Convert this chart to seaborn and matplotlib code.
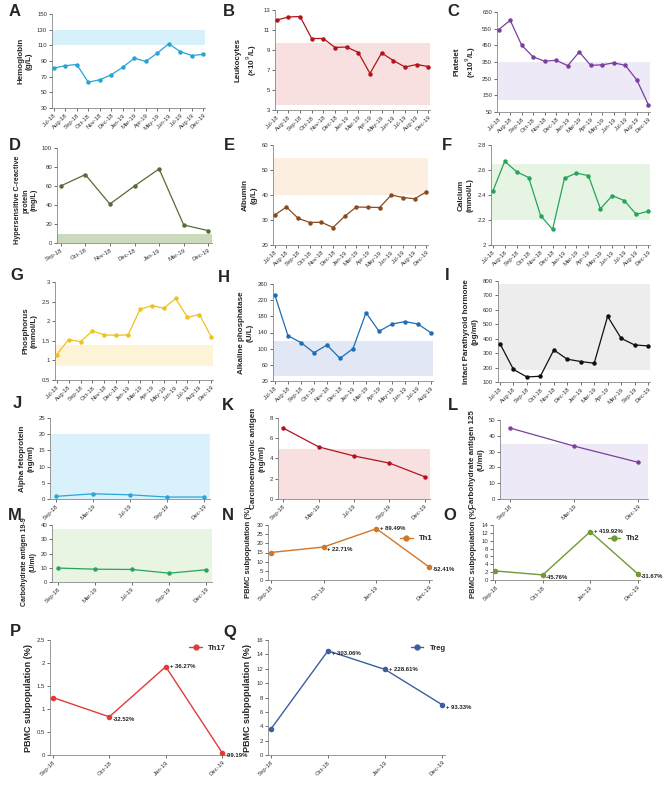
import numpy as np
import pandas as pd
import matplotlib
matplotlib.use("Agg")
import matplotlib.pyplot as plt
import seaborn as sns

# ======================================
# DATA
# ======================================
meses_14 = ["Jul-18", "Aug-18", "Sep-18", "Oct-18", "Nov-18", "Dec-18", "Jan-19",
            "Mar-19", "Apr-19", "May-19", "Jun-19", "Jul-19", "Aug-19", "Dec-19"]
meses_13 = meses_14[:13]
meses_12 = ["Jul-18", "Aug-18", "Sep-18", "Oct-18", "Nov-18", "Dec-18", "Jan-19",
            "Mar-19", "Apr-19", "May-19", "Sep-19", "Dec-19"]
meses_crp = ["Sep-18", "Oct-18", "Nov-18", "Dec-18", "Jan-19", "Mar-19", "Dec-19"]
meses_tumor = ["Sep-18", "Mar-19", "Jul-19", "Sep-19", "Dec-19"]
meses_ca125 = ["Sep-18", "Mar-19", "Dec-19"]
meses_pbmc = ["Sep-18", "Oct-18", "Jan-19", "Dec-19"]

hemoglobina = [81, 84, 85.5, 63, 66, 72.5, 82, 93.5, 89.5, 100, 112, 102, 97, 98.5]
leucocitos = [12.0, 12.3, 12.35, 10.15, 10.15, 9.25, 9.3, 8.75, 6.65, 8.7, 7.95, 7.3, 7.55, 7.35]
plaquetas = [545, 600, 450, 380, 355, 360, 328, 410, 330, 333, 345, 330, 243, 95]
pcr = [60, 72, 41, 60, 78, 19, 13]
albumina = [32, 35.2, 30.7, 29, 29.1, 27, 31.5, 35.2, 35.1, 35, 40, 39, 38.5, 41.2]
calcio = [2.43, 2.67, 2.585, 2.54, 2.235, 2.125, 2.535, 2.575, 2.555, 2.29, 2.395, 2.355, 2.245, 2.27]
fosforo = [1.15, 1.53, 1.48, 1.75, 1.65, 1.64, 1.65, 2.3, 2.4, 2.33, 2.58, 2.1, 2.17, 1.6]
fosfatase = [232, 132, 115, 90, 109, 76, 100, 189, 143, 161, 167, 161, 139]
pth = [365, 187, 135, 140, 322, 258, 242, 230, 555, 403, 357, 350]
afp = [0.8, 1.6, 1.3, 0.6, 0.6]
cea = [7.0, 5.15, 4.25, 3.55, 2.2]
ca125 = [45, 33.5, 23.2]
ca199 = [9.8, 9.0, 8.8, 6.2, 8.6]
th1 = [15, 18, 28, 7]
th2 = [2.3, 1.3, 12.3, 1.6]
th17 = [1.25, 0.83, 1.92, 0.05]
treg = [3.6, 14.5, 11.9, 7]
var_th1 = ["", "+ 22.71%", "+ 89.49%", "-52.41%"]
var_th2 = ["", "-45.76%", "+ 419.92%", "-31.67%"]
var_th17 = ["", "-32.52%", "+ 36.27%", "-99.19%"]
var_treg = ["", "+ 303.06%", "+ 228.61%", "+ 93.33%"]

# ======================================
# CONFIG
# ======================================
sns.set_theme(style="ticks")
plt.rcParams["font.family"] = ["Liberation Sans", "DejaVu Sans"]

W, H = 669, 799
fig = plt.figure(figsize=(W / 100, H / 100), dpi=100)


def eixo(l, t, r, b):
    return fig.add_axes([l / W, 1 - b / H, (r - l) / W, (b - t) / H])


def letra_fig(letra, x, y):
    # letra do painel em pixels da figura
    fig.text(x / W, 1 - y / H, letra, fontsize=12, fontweight="bold",
             ha="center", va="center")


def painel(caixa, meses, valores, cor, faixa, cor_faixa, ylim, passo,
           ylabel, rot=45, fmt=None, ysize=5.8, ylab_y=0.5):
    ax = eixo(*caixa)
    x = np.arange(len(meses))
    if faixa is not None:
        ax.axhspan(faixa[0], faixa[1], color=cor_faixa, lw=0, zorder=0)
    df = pd.DataFrame({"x": x, "y": valores})
    sns.lineplot(data=df, x="x", y="y", ax=ax, color=cor, lw=0.9, marker="o",
                 markersize=3.2, markeredgewidth=0, zorder=3)
    ax.set_xlim(-0.15, len(meses) - 0.85)
    ax.set_ylim(*ylim)
    ticks = np.arange(ylim[0], ylim[1] + passo / 2, passo)
    ax.set_yticks(ticks)
    if fmt:
        ax.set_yticklabels([fmt.format(t) for t in ticks])
    ax.set_xticks(x)
    ax.set_xticklabels(meses, rotation=rot, ha="right", rotation_mode="anchor")
    ax.tick_params(labelsize=4.3, length=2, width=0.5, pad=1.5, colors="#333333")
    for s in ["left", "bottom"]:
        ax.spines[s].set_linewidth(0.6)
        ax.spines[s].set_color("#888888")
    sns.despine(ax=ax)
    ax.set_xlabel("")
    ax.set_ylabel(ylabel, fontsize=ysize, fontweight="bold", labelpad=3, linespacing=1.3)
    if ylab_y != 0.5:
        ax.yaxis.label.set_y(ylab_y)
    return ax


def pbmc(caixa, valores, cor, rotulo, variacoes, ylim, passo, ysize, leg_y=1.0):
    ax = painel(caixa, meses_pbmc, valores, cor, None, None, ylim, passo,
                "PBMC subpopulation (%)", fmt="{:g}", ysize=ysize)
    for line in ax.lines:
        line.set_markersize(4)
        line.set_linewidth(1.0)
    ax.set_xlim(-0.05, 3.05)
    for i, v in enumerate(valores):
        if variacoes[i]:
            ax.text(i + 0.07, v, variacoes[i], fontsize=4.3, fontweight="bold",
                    ha="left", va="top" if i != 2 else "center", color="#222222")
    ax.plot([], [], color=cor, marker="o", markersize=3.5, lw=1, label=rotulo)
    leg = ax.legend(loc="upper right", bbox_to_anchor=(1.03, leg_y), fontsize=5.5,
                    frameon=False, handlelength=1.6, borderaxespad=0.2)
    for t in leg.get_texts():
        t.set_fontweight("bold")
    return ax


# ======================================
# PAINEIS
# ======================================
painel((52, 14, 205, 108), meses_14, hemoglobina, "#29a3d6", (110, 130), "#d7f1fb",
       (30, 150), 20, "Hemoglobin\n(g/L)")
painel((275, 10, 430, 110), meses_14, leucocitos, "#b3141c", (3.5, 9.7), "#f8e0e0",
       (3, 13), 2, "Leukocytes\n(×10$^9$/L)")
painel((497, 12, 650, 112), meses_14, plaquetas, "#7b3f9e", (125, 350), "#eee9f7",
       (50, 650), 100, "Platelet\n(×10$^9$/L)")

painel((57, 148, 212, 243), meses_crp, pcr, "#566b35", (0, 10), "#cbd9bd",
       (0, 100), 20, "Hypersensitive C-reactive\nprotein\n(mg/L)", rot=30,
       ysize=5.2, ylab_y=0.45)
painel((273, 145, 428, 245), meses_14, albumina, "#8b4a1c", (40, 55), "#fdeee2",
       (20, 60), 10, "Albumin\n(g/L)")
painel((491, 145, 650, 245), meses_14, calcio, "#27a35a", (2.2, 2.65), "#e6f5e3",
       (2, 2.8), 0.2, "Calcium\n(mmol/L)", fmt="{:g}")

painel((55, 282, 213, 380), meses_14, fosforo, "#efc21d", (0.85, 1.4), "#fdf3d6",
       (0.5, 3), 0.5, "Phosphorus\n(mmol/L)", fmt="{:g}")
painel((273, 284, 433, 381), meses_13, fosfatase, "#1f6db3", (33, 120), "#e1e7f4",
       (20, 260), 40, "Alkaline phosphatase\n(U/L)")
painel((498, 281, 650, 382), meses_12, pth, "#111111", (180, 780), "#ededed",
       (100, 800), 100, "Intact Parathyroid hormone\n(pg/ml)")

painel((50, 418, 210, 499), meses_tumor, afp, "#2aa5d8", (0, 20), "#d9f1fb",
       (0, 25), 5, "Alpha fetoprotein\n(ng/ml)")
painel((278, 418, 430, 499), meses_tumor, cea, "#b3141c", (0, 4.9), "#f8e0e0",
       (0, 8), 2, "Carcinoembryonic antigen\n(ng/ml)")
painel((500, 420, 648, 499), meses_ca125, ca125, "#7b3f9e", (0, 35), "#eee9f7",
       (0, 50), 10, "Carbohydrate antigen 125\n(U/ml)")

painel((52, 525, 212, 582), meses_tumor, ca199, "#27a35a", (0, 37), "#e8f5e3",
       (0, 40), 10, "Carbohydrate antigen 19-9\n(U/ml)", ysize=5.0, ylab_y=0.35)
pbmc((268, 525, 432, 580), th1, "#d2762a", "Th1", var_th1, (0, 30), 5, 5.5, 0.9)
pbmc((493, 525, 640, 580), th2, "#6f9a35", "Th2", var_th2, (0, 14), 2, 5.5, 0.9)
pbmc((50, 640, 225, 755), th17, "#e23a3a", "Th17", var_th17, (0, 2.5), 0.5, 6.5)
pbmc((268, 640, 445, 755), treg, "#3b5f9d", "Treg", var_treg, (0, 16), 2, 6.5)

for letra, x, y in [("A", 15, 12), ("B", 229, 12), ("C", 453, 12),
                    ("D", 15, 145), ("E", 229, 145), ("F", 447, 145),
                    ("G", 17, 275), ("H", 224, 277), ("I", 447, 275),
                    ("J", 17, 404), ("K", 228, 405), ("L", 453, 405),
                    ("M", 15, 515), ("N", 228, 515), ("O", 450, 515),
                    ("P", 15, 632), ("Q", 230, 632)]:
    letra_fig(letra, x, y)

fig.savefig("out.png", dpi=100)
